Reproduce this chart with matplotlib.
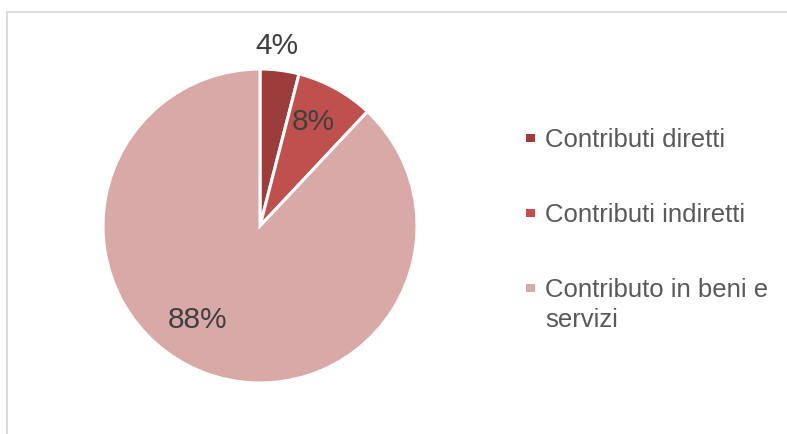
import matplotlib.pyplot as plt
from matplotlib.lines import Line2D
from matplotlib.patches import Rectangle

# data
categories = ['Contributi diretti', 'Contributi indiretti', 'Contributo in beni e servizi']
legend_lines = [['Contributi diretti'], ['Contributi indiretti'], ['Contributo in beni e', 'servizi']]
shares = [4, 8, 88]
colors = ['#9C3D3B', '#C0504D', '#D9A9A8']

plt.rcParams['font.family'] = ['Liberation Sans', 'DejaVu Sans']

W, H = 787, 435
fig = plt.figure(figsize=(W / 100, H / 100), dpi=100)

# chart frame (only top and left edges visible in the crop)
fig.add_artist(Line2D([6.5 / W, 6.5 / W], [0, 1 - 12.5 / H], color='#D9D9D9', lw=1.3))
fig.add_artist(Line2D([6.5 / W, 1], [1 - 12.5 / H, 1 - 12.5 / H], color='#D9D9D9', lw=1.3))

# pie centred at (260, 227) px, radius 157 px
cx, cy, r = 260, 227, 157
ax = fig.add_axes([(cx - r) / W, (H - cy - r) / H, 2 * r / W, 2 * r / H])
wedges, _ = ax.pie(shares, colors=colors, startangle=90, counterclock=False,
                   wedgeprops=dict(edgecolor='white', linewidth=2.2))
ax.set_xlim(-1, 1)
ax.set_ylim(-1, 1)
ax.set_aspect('auto')
ax.axis('off')

# data labels, positions in radius units (Excel best fit)
label_pos = [(0.108, 1.153), (0.338, 0.669), (-0.395, -0.592)]
for v, (lx, ly) in zip(shares, label_pos):
    ax.text(lx, ly, f'{v}%', ha='center', va='center', fontsize=21.5,
            color='#404040', clip_on=False)

# legend
baselines = [147, 222, 297]
line_gap = 30
for lines, col, yb in zip(legend_lines, colors, baselines):
    fig.add_artist(Rectangle((526 / W, 1 - (yb - 4) / H), 9 / W, 8 / H,
                             transform=fig.transFigure, facecolor=col, edgecolor='none'))
    for k, line in enumerate(lines):
        fig.text(545 / W, 1 - (yb + k * line_gap) / H, line, ha='left', va='baseline',
                 fontsize=18.5, color='#595959')

fig.savefig('out.png', dpi=100)
